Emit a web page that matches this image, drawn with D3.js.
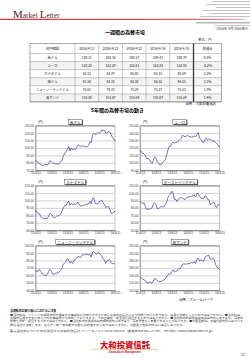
<!DOCTYPE html>
<html><head><meta charset="utf-8">
<script src="https://cdn.jsdelivr.net/npm/d3@7"></script>
<style>body{margin:0;background:#fff}svg{display:block}</style>
</head><body>
<script>
// ---------- data ----------
const tableHeader = ["対円相場","2016/4/11","2016/4/12","2016/4/13","2016/4/14","2016/4/15","前週比"];
const currencyRows = ["米ドル","ユーロ","カナダドル","豪ドル","ニュージーランドドル","英ポンド"];
const rateUSD = [108.11,108.16,108.57,109.41,108.74];
const rateEUR = [123.22,123.29,122.61,123.28,122.93];
const rateCAD = [83.13,83.74,85.05,85.15,85.59];
const rateAUD = [81.58,82.18,83.38,82.52,84.35];
const rateNZD = [73.61,74.19,75.29,75.37,75.23];
const rateGBP = [152.80,153.87,155.04,155.07,155.24];
const weekChange = ["0.5%","-0.2%","3.3%","3.1%","1.9%","1.4%"];

const chartTitles = ["米ドル","ユーロ","カナダドル","オーストラリアドル","ニュージーランドドル","英ポンド"];
const xTickLabels = ["11/4/15","12/4/15","13/4/15","14/4/15","15/4/15","16/4/15"];
// monthly values Apr 2011 .. Apr 2016
const seriesUSD = [83.5,81.5,80.5,79,77,76.8,76.5,77.5,77.8,
 77,79.5,83,81,79.5,79.5,78.5,78.5,78,79,81.5,84,
 89,93,95,98,102,96,100,97,99,97.5,100,104,
 103,102,102.5,102.5,101.8,102,101.5,103,108,107,117,119.5,
 118,119,120.5,119.5,121,124,123.5,124,120,120,122.5,121.5,
 118,114,112.5,108.7];
const seriesEUR = [117,114.5,113,112,110,105.5,106,104.5,101,
 99,103,108,106,101,99.5,97,97.5,100,102,104,110,
 117,122,122,126,128,126,128,127.5,129,131,133,137,
 136,135,136,136.5,135.5,135,134.5,135,136,135,138,140.5,
 133,131.5,128,127,131,133.5,131,132.5,131,130.5,129,129.5,
 127,125.5,124,121];
const seriesCAD = [87.5,84,82.5,82,78.5,76.5,75.5,75.5,75.8,
 76,79.5,83,81.5,78.5,77,77.5,79,79.5,80,82,85.5,
 90,93,93,96.5,99,93.5,96,94,95.5,94.5,95.5,98,
 94,92.5,92.5,93,93.5,94.5,95,95.5,98.5,95.5,103,103.5,
 96,95.5,95.5,98,99,100.5,97,94.5,90.5,91.5,92,88.5,
 83,82.5,84.5,85.6];
const seriesAUD = [88.5,87.5,85.5,87,82,78,78.5,78.5,78.5,
 80,85.5,87,84.5,79.5,79,80.5,82,81.5,81.5,84.5,87,
 94,96.5,98.5,102.5,100,91,91.5,88.5,92,93.5,94,93.5,
 91.5,91.5,93,95,94.5,95.5,95.5,96.5,97,94.5,100,99,
 95.5,93,92.5,92.5,96,95.5,91.5,91,84.5,85.5,87.5,87.5,
 82,80.5,84.5,84.4];
const seriesNZD = [66.5,65.5,65.5,68,65,62,61.5,59.5,60,
 61.5,65.5,68,65.5,61.5,61.5,62.5,63,63.5,65,66.5,69.5,
 75,77,78.5,82.5,81,76.5,78.5,76,80,81.5,83,85.5,
 85,84,87,88,87.5,88,88.5,87.5,88.5,84.5,91,92,
 89.5,88,89.5,91,88,86,82,81,76,79.5,80,81.5,
 77.5,75.5,76,75.2];
const seriesGBP = [136,133,130,128,126,120,120,122,121,
 119,124,131,130,126,123.5,122.5,123.5,126,127.5,130.5,136,
 142,144,143,150,155,149,151.5,151,157,157.5,162,170,
 171,170,170,171.5,171,173,174,173,177,172,185,186,
 178,182,180,178,187,192,193,194,184,183,187,182,
 170,162,160,155.2];
const yTicksUSD = [70,80,90,100,110,120,130];
const yTicksEUR = [90,100,110,120,130,140,150];
const yTicksCAD = [60,70,80,90,100,110,120];
const yTicksAUD = [50,60,70,80,90,100,110];
const yTicksNZD = [40,50,60,70,80,90,100];
const yTicksGBP = [100,120,140,160,180,200,220];

// ---------- drawing ----------
const JP = "'Noto Sans CJK JP','Noto Sans',sans-serif";
const svg = d3.select("body").append("svg").attr("width",250).attr("height",358);
svg.append("rect").attr("width",250).attr("height",358).attr("fill","#fff");

// header
const defs = svg.append("defs");
const g1 = defs.append("linearGradient").attr("id","rg").attr("x1","0").attr("x2","1");
g1.append("stop").attr("offset","0").attr("stop-color","#d0202a");
g1.append("stop").attr("offset","0.75").attr("stop-color","#e04040");
g1.append("stop").attr("offset","1").attr("stop-color","#e8b0b0");
const stripes = [[1.5,212],[4.5,206],[7.5,216],[10.5,203],[13.5,210],[16.5,200],[22.8,196],[25.5,214]];
svg.selectAll("line.st").data(stripes).join("line")
  .attr("x1",d=>d[1]).attr("x2",250).attr("y1",d=>d[0]).attr("y2",d=>d[0])
  .attr("stroke",(d,i)=>i===6?"#777":"#c4c4c4").attr("stroke-width",(d,i)=>i===6?0.8:1.1);
svg.append("rect").attr("x",0).attr("y",18.8).attr("width",245).attr("height",1.1).attr("fill","url(#rg)");
const ml = svg.append("text").attr("x",13).attr("y",17.5)
  .attr("font-family","'Liberation Serif',serif").attr("fill","#5a1a1a");
ml.append("tspan").attr("font-size",11).text("M");
ml.append("tspan").attr("font-size",7.5).text("arket ");
ml.append("tspan").attr("font-size",11).text("L");
ml.append("tspan").attr("font-size",7.5).text("etter");

svg.append("text").attr("x",248).attr("y",30).attr("text-anchor","end")
  .attr("font-family",JP).attr("font-size",3.4).attr("fill","#333").text("2016年 4月 18日発行");
svg.append("text").attr("x",125).attr("y",34.3).attr("text-anchor","middle")
  .attr("font-family",JP).attr("font-size",5).attr("font-weight","bold").text("一週間の為替市場");
svg.append("text").attr("x",198).attr("y",41).attr("font-family",JP).attr("font-size",3.4)
  .attr("fill","#333").text("単位：円");

// table
const rates = [rateUSD,rateEUR,rateCAD,rateAUD,rateNZD,rateGBP];
const colEdges = [30,75,98.7,122.4,146.1,169.8,193.5,221.7];
const rowTop = 43.7, headH = 9.8, rowH = 8.07;
const tb = svg.append("g");
const tableBottom = rowTop+headH+rowH*currencyRows.length;
currencyRows.forEach((c,i)=>{
  if(i%2===1) tb.append("rect").attr("x",30).attr("y",rowTop+headH+rowH*i)
     .attr("width",191.7).attr("height",rowH).attr("fill","#f3f3f3");
});
tb.append("rect").attr("x",30).attr("y",rowTop).attr("width",191.7).attr("height",tableBottom-rowTop)
  .attr("fill","none").attr("stroke","#555").attr("stroke-width",0.5);
colEdges.slice(1,-1).forEach((x,i)=>{
  tb.append("line").attr("x1",x).attr("x2",x).attr("y1",rowTop).attr("y2",tableBottom)
   .attr("stroke", i===5?"#333":"#777").attr("stroke-width", i===5?1.3:0.4);
});
for(let r=0;r<=currencyRows.length;r++){
  const yy = rowTop+headH+rowH*r;
  tb.append("line").attr("x1",30).attr("x2",221.7).attr("y1",yy).attr("y2",yy)
   .attr("stroke","#777").attr("stroke-width",0.4);
}
tableHeader.forEach((h,j)=>{
  tb.append("text").attr("x",(colEdges[j]+colEdges[j+1])/2).attr("y",rowTop+headH/2+1.2)
   .attr("text-anchor","middle").attr("font-family",JP).attr("font-size",3.3).attr("fill","#111").text(h);
});
currencyRows.forEach((c,i)=>{
  const cy = rowTop+headH+rowH*i+rowH/2+1.2;
  const cells = [c, ...rates[i].map(v=>d3.format(".2f")(v)), weekChange[i]];
  cells.forEach((t,j)=>{
    tb.append("text").attr("x",(colEdges[j]+colEdges[j+1])/2).attr("y",cy)
     .attr("text-anchor","middle").attr("font-family",JP).attr("font-size",3.3).attr("fill","#111").text(t);
  });
});
svg.append("text").attr("x",216).attr("y",105.2).attr("text-anchor","end")
  .attr("font-family",JP).attr("font-size",3.4).text("出所：大和投資信託");

svg.append("text").attr("x",117.5).attr("y",112.2).attr("text-anchor","middle")
  .attr("font-family",JP).attr("font-size",5).attr("font-weight","bold").text("5年間の為替市場の動き");

// charts
const allSeries = [seriesUSD,seriesEUR,seriesCAD,seriesAUD,seriesNZD,seriesGBP];
const allTicks = [yTicksUSD,yTicksEUR,yTicksCAD,yTicksAUD,yTicksNZD,yTicksGBP];
const start = new Date(2011,3,15);
const tickDates = xTickLabels.map((s,i)=>d3.timeYear.offset(start,i));
const colX = [[35.5,115],[140,219.5]];
const rowY = [125.6,185.6,245.6];
const ph = 44.6;

chartTitles.forEach((title,k)=>{
  const [x0,x1] = colX[k%2];
  const top = rowY[Math.floor(k/2)], bot = top+ph;
  const ticks = allTicks[k];
  const x = d3.scaleTime().domain([start, tickDates[tickDates.length-1]]).range([x0,x1]);
  const y = d3.scaleLinear().domain([ticks[0],ticks[ticks.length-1]]).range([bot,top]);
  const g = svg.append("g");
  g.append("rect").attr("x",x0).attr("y",top).attr("width",x1-x0).attr("height",ph)
    .attr("fill","#fff").attr("stroke","#8a8a8a").attr("stroke-width",0.5);
  const ya = g.append("g").attr("transform",`translate(${x0},0)`)
    .call(d3.axisLeft(y).tickValues(ticks).tickSize(-(x1-x0)).tickPadding(1.5).tickFormat(d3.format(".2f")));
  ya.select(".domain").attr("stroke","#666").attr("stroke-width",0.5);
  ya.selectAll(".tick line").attr("stroke","#9a9a9a").attr("stroke-width",0.45);
  ya.selectAll(".tick text").attr("font-size",3.1).attr("font-family","'Liberation Sans',sans-serif").attr("fill","#333");
  const xa = g.append("g").attr("transform",`translate(0,${bot})`)
    .call(d3.axisBottom(x).tickValues(tickDates).tickSize(1).tickPadding(1).tickFormat((d,i)=>xTickLabels[i]));
  xa.select(".domain").attr("stroke","#666").attr("stroke-width",0.5);
  xa.selectAll(".tick line").attr("stroke","#666").attr("stroke-width",0.4);
  xa.selectAll(".tick text").attr("font-size",3).attr("font-family","'Liberation Sans',sans-serif").attr("fill","#333");
  const data = allSeries[k].map((v,i)=>({d:d3.timeMonth.offset(start,i),v}));
  g.append("path").datum(data)
    .attr("d",d3.line().x(d=>x(d.d)).y(d=>y(d.v)))
    .attr("fill","none").attr("stroke","#3838a8").attr("stroke-width",0.7);
  g.append("text").attr("x",x0+2.5).attr("y",top-2.2).attr("font-family",JP).attr("font-size",3.1).attr("fill","#333").text("(円)");
  // title box
  const cx = (x0+x1)/2;
  const tb2 = g.append("g");
  const shadow = tb2.append("rect").attr("fill","#222");
  const box = tb2.append("rect").attr("fill","#fff").attr("stroke","#222").attr("stroke-width",0.4);
  const t = tb2.append("text").attr("x",cx).attr("y",top-2.1).attr("text-anchor","middle")
    .attr("font-family",JP).attr("font-size",3.6).attr("fill","#111").text(title);
  const w = t.node().getComputedTextLength()+3;
  shadow.attr("x",cx-w/2+0.7).attr("y",top-6.2+0.7).attr("width",w).attr("height",5);
  box.attr("x",cx-w/2).attr("y",top-6.2).attr("width",w).attr("height",5);
});

svg.append("text").attr("x",213).attr("y",301).attr("text-anchor","end")
  .attr("font-family",JP).attr("font-size",3.4).text("出所：ブルームバーグ");

// footer
svg.append("text").attr("x",10).attr("y",312).attr("font-family",JP).attr("font-size",2.9)
  .attr("font-weight","bold").text("当資料のお取り扱いにおけるご注意");
const notes = [
 ["■当資料は、ファンドの運用状況や関連する情報等をお知らせするために大和投資信託により作成されたものであり、勧誘を目的としたものではありません。■当資料は、",233],
 ["各種の信頼できると考えられる情報源から作成しておりますが、その正確性・完全性を保証するものではありません。■当資料内の運用実績等は過去のものであり、将来の",233],
 ["成果を示唆・保証するものではありません。■当資料内の見解等は作成時点のものであり、将来予告なく変更されることがあります。■分配金額は、収益分配方針に基づいて",233],
 ["委託会社が決定します。あらかじめ一定の額の分配をお約束するものではありません。分配金が支払われない場合もあります。",175],
 ["販売会社等についてのお問合せ⇒大和投資信託 フリーダイヤル 0120-106212（営業日の9:00～17:00） HP http://www.daiwa-am.co.jp/",203]
];
notes.forEach((n,i)=>{
  svg.append("text").attr("x",10).attr("y",[315.6,319,322.4,325.8,332.2][i])
   .attr("font-family",JP).attr("font-size",2.3).attr("fill","#333")
   .attr("textLength",n[1]).attr("lengthAdjust","spacingAndGlyphs").text(n[0]);
});
svg.append("text").attr("x",125).attr("y",347.6).attr("text-anchor","middle")
  .attr("font-family",JP).attr("font-size",8.4).attr("font-weight",900).attr("fill","#d0101c")
  .attr("textLength",50).attr("lengthAdjust","spacingAndGlyphs").text("大和投資信託");
svg.append("line").attr("x1",92).attr("x2",158).attr("y1",349.3).attr("y2",349.3)
  .attr("stroke","#d8a850").attr("stroke-width",0.6);
svg.append("text").attr("x",125).attr("y",352.6).attr("text-anchor","middle")
  .attr("font-family","'Liberation Sans',sans-serif").attr("font-size",2.6).attr("font-weight","bold")
  .attr("fill","#c01020").text("Daiwa Asset Management");
svg.append("text").attr("x",245).attr("y",355.5).attr("text-anchor","end")
  .attr("font-family","'Liberation Sans',sans-serif").attr("font-size",3).attr("fill","#333").text("1/2");
</script>
</body></html>
